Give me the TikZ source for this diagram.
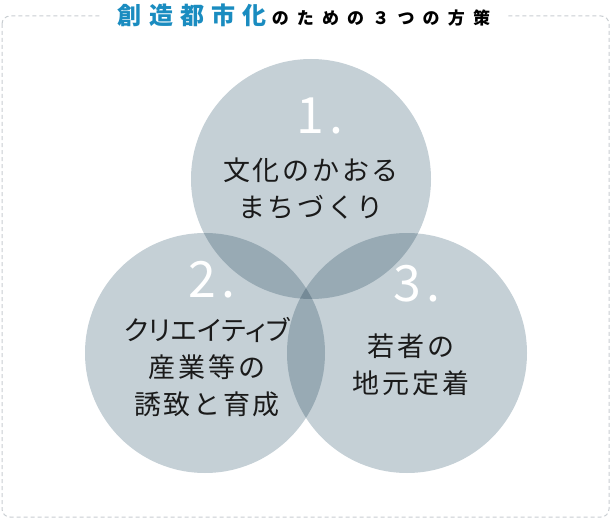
\documentclass[tikz,border=0pt]{standalone}
\usepackage{fontspec}
\setmainfont{Noto Sans CJK JP}
\usepackage{xcolor}
\definecolor{circleFill}{RGB}{197,208,214}
\definecolor{overlapTwo}{RGB}{152,170,180}
\definecolor{overlapThree}{RGB}{117,138,151}
\definecolor{titleBlue}{RGB}{26,140,192}
\definecolor{frameGray}{RGB}{200,205,209}
\definecolor{textDark}{RGB}{26,26,26}
\usetikzlibrary{positioning}

\begin{document}
\begin{tikzpicture}[x=1pt, y=-1pt,
    numlabel/.style={text=white, inner sep=0pt,
      font=\fontsize{50}{50}\selectfont\addfontfeature{LetterSpace=12}},
    planlabel/.style={text=textDark, align=center, inner sep=0pt,
      font=\fontsize{27}{37}\selectfont\addfontfeature{LetterSpace=10}}]
        \useasboundingbox (0,0) rectangle (611,519);
        % Frame
        \draw[frameGray, line width=1pt, dash pattern=on 4pt off 3pt, rounded corners=8pt]
          (2,16) rectangle (609,517);
        % Circle centres
        \coordinate (culture) at (311,179);
        \coordinate (creative) at (205,353);
        \coordinate (youth) at (407,353);
        % Circles
        \foreach \c in {culture,creative,youth}
          \fill[circleFill] (\c) circle[radius=120pt];
        % Overlaps of two
        \begin{scope}
          \clip (culture) circle[radius=120pt];
          \fill[overlapTwo] (creative) circle[radius=120pt];
          \fill[overlapTwo] (youth) circle[radius=120pt];
        \end{scope}
        \begin{scope}
          \clip (creative) circle[radius=120pt];
          \fill[overlapTwo] (youth) circle[radius=120pt];
        \end{scope}
        % Overlap of three
        \begin{scope}
          \clip (culture) circle[radius=120pt];
          \clip (creative) circle[radius=120pt];
          \fill[overlapThree] (youth) circle[radius=120pt];
        \end{scope}
        % Numbers
        \node[numlabel] (num1) at (320,116) {1.};
        \node[numlabel] (num2) at (212,280) {2.};
        \node[numlabel] (num3) at (417,284) {3.};
        % Plans
        \node[planlabel] (plan1) at (311,189) {文化のかおる\\まちづくり};
        \node[planlabel] (plan2) at (207,367)
          {{\addfontfeature{RawFeature=+palt,LetterSpace=2}クリエイティブ}\\産業等の\\誘致と育成};
        \node[planlabel] (plan3) at (411,365) {若者の\\地元定着};
        % Title
        \node[fill=white, inner xsep=16pt, inner ysep=2pt] (title) at (304,15)
          {{\bfseries\color{titleBlue}\fontsize{24}{24}\selectfont\addfontfeature{LetterSpace=30}創造都市化}\kern5pt%
           {\bfseries\fontsize{17}{17}\selectfont\addfontfeature{LetterSpace=48}のための３つの方策}};
      \end{tikzpicture}
\end{document}
